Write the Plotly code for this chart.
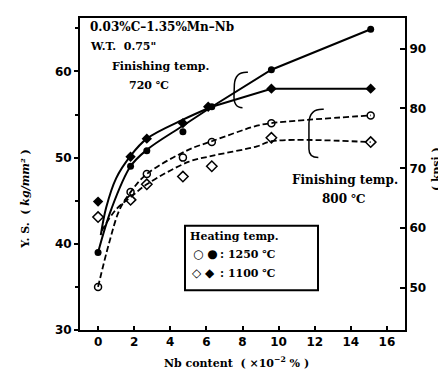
import plotly.graph_objects as go

# ---------------- data ----------------
# Heating 1250 C, finishing 720 C (filled circles)
fc_x = [0.0, 1.8, 2.7, 4.7, 6.3, 9.6, 15.1]
fc_y = [39.0, 49.0, 50.8, 53.0, 55.9, 60.2, 64.9]
# Heating 1100 C, finishing 720 C (filled diamonds)
fd_x = [0.0, 1.8, 2.7, 4.7, 6.1, 9.6, 15.1]
fd_y = [44.9, 50.1, 52.2, 54.0, 55.9, 58.0, 58.0]
# Heating 1250 C, finishing 800 C (open circles)
oc_x = [0.0, 1.8, 2.7, 4.7, 6.3, 9.6, 15.1]
oc_y = [35.0, 46.0, 48.1, 50.0, 51.8, 54.0, 54.9]
# Heating 1100 C, finishing 800 C (open diamonds)
od_x = [0.0, 1.8, 2.7, 4.7, 6.3, 9.6, 15.1]
od_y = [43.1, 45.1, 46.9, 47.8, 49.0, 52.3, 51.8]

# fitted curves drawn on the chart
fit_fc_x = [0.0, 0.73, 1.8, 2.7, 4.7, 6.3]
fit_fc_y = [39.0, 44.0, 49.0, 50.9, 53.7, 55.9]
seg_fc_x = [6.3, 9.6, 15.1]
seg_fc_y = [55.9, 60.2, 64.9]

fit_fd_x = [0.15, 0.45, 1.0, 1.8, 2.7, 4.7, 6.3]
fit_fd_y = [41.0, 44.2, 47.6, 50.2, 52.2, 54.4, 55.9]
seg_fd_x = [6.3, 9.6, 15.1]
seg_fd_y = [55.9, 58.0, 58.0]

fit_oc_x = [0.0, 0.6, 1.2, 1.8, 2.7, 5.0, 6.3, 8.8, 9.6, 15.1]
fit_oc_y = [35.0, 40.0, 44.0, 46.0, 48.1, 50.9, 51.9, 53.7, 54.0, 54.9]

fit_od_x = [0.2, 1.0, 1.8, 2.7, 5.0, 6.3, 8.8, 9.6, 15.1]
fit_od_y = [41.5, 44.0, 45.4, 46.9, 49.5, 50.2, 51.3, 51.9, 51.8]

x_ticks = [0, 2, 4, 6, 8, 10, 12, 14, 16]
y_ticks = [30, 40, 50, 60]
kpsi_ticks = [50, 60, 70, 80, 90]

W, H = 446, 369
L, R, T, B = 72, 397, 8, 322


def P(px, py):
    return (px - L) / (R - L), (B - py) / (B - T)


fig = go.Figure()

solid = dict(color="black", width=2)
dashed = dict(color="black", width=1.8, dash="6px,3px")

fig.add_trace(go.Scatter(x=fit_fc_x, y=fit_fc_y, mode="lines", line=dict(solid, shape="spline"), hoverinfo="skip"))
fig.add_trace(go.Scatter(x=seg_fc_x, y=seg_fc_y, mode="lines", line=solid, hoverinfo="skip"))
fig.add_trace(go.Scatter(x=fit_fd_x, y=fit_fd_y, mode="lines", line=dict(solid, shape="spline"), hoverinfo="skip"))
fig.add_trace(go.Scatter(x=seg_fd_x, y=seg_fd_y, mode="lines", line=solid, hoverinfo="skip"))
fig.add_trace(go.Scatter(x=fit_oc_x, y=fit_oc_y, mode="lines", line=dict(dashed, shape="spline"), hoverinfo="skip"))
fig.add_trace(go.Scatter(x=fit_od_x, y=fit_od_y, mode="lines", line=dict(dashed, shape="spline"), hoverinfo="skip"))

fig.add_trace(go.Scatter(x=fc_x, y=fc_y, mode="markers",
                         marker=dict(symbol="circle", size=7, color="black")))
fig.add_trace(go.Scatter(x=fd_x, y=fd_y, mode="markers",
                         marker=dict(symbol="diamond", size=8, color="black")))
fig.add_trace(go.Scatter(x=oc_x, y=oc_y, mode="markers",
                         marker=dict(symbol="circle-open", size=7, color="black", line=dict(width=1.5))))
fig.add_trace(go.Scatter(x=od_x, y=od_y, mode="markers",
                         marker=dict(symbol="diamond-open", size=8, color="black", line=dict(width=1.5))))
# invisible trace for the kpsi axis
fig.add_trace(go.Scatter(x=[fc_x[0]], y=[kpsi_ticks[0]], yaxis="y2", mode="markers",
                         marker=dict(opacity=0), hoverinfo="skip"))

tickfont = dict(family="DejaVu Sans", size=12, color="black", weight="bold")

fig.update_layout(
    width=W, height=H,
    margin=dict(l=L, r=W - R, t=T, b=H - B),
    paper_bgcolor="white", plot_bgcolor="white",
    showlegend=False,
    xaxis=dict(range=[-1, 17], tickvals=x_ticks, ticks="inside", ticklen=4, tickwidth=1.5,
               tickcolor="black", showgrid=False, zeroline=False, showline=True,
               linecolor="black", linewidth=2, mirror=True, tickfont=tickfont),
    yaxis=dict(range=[30, 66.2], tickvals=y_ticks, ticks="outside", ticklen=4, tickwidth=1.5,
               tickcolor="black", showgrid=False, zeroline=False, showline=True,
               linecolor="black", linewidth=2, mirror=True, tickfont=tickfont,
               minor=dict(dtick=5, ticks="outside", ticklen=3, tickcolor="black")),
    yaxis2=dict(range=[43.0, 95.1], overlaying="y", side="right", tickvals=kpsi_ticks,
                ticks="inside", ticklen=5, tickwidth=1.5, tickcolor="black", showgrid=False,
                zeroline=False, showline=True, linecolor="black", linewidth=2,
                tickfont=tickfont),
)

serif = dict(family="DejaVu Serif", color="black", weight="bold")


def note(text, px, py, size, xanchor="left", angle=0):
    x, y = P(px, py)
    fig.add_annotation(text=text, x=x, y=y, xref="paper", yref="paper", showarrow=False,
                       xanchor=xanchor, yanchor="middle", textangle=angle,
                       font=dict(serif, size=size))


# axis titles
note("Y. S.  ( <i>kg/mm²</i> )", 18, 190, 11, xanchor="center", angle=-90)
note("( kpsi )", 428, 160, 11, xanchor="center", angle=-90)
note("Nb content  ( ×10<sup>−2</sup> % )", 228, 355, 11, xanchor="center")

note("0.03%C–1.35%Mn–Nb", 80, 17, 12)
note("W.T.  0.75\"", 80, 37, 11)
note("Finishing temp.", 102, 57, 11)
note("720 ℃", 119, 76, 11)
note("Finishing temp.", 282, 171, 12)
note("800 ℃", 312, 190, 12)

# heating-temperature key box
x0, y0 = P(177, 282)
x1, y1 = P(310, 217)
fig.add_shape(type="rect", xref="paper", yref="paper", x0=x0, y0=y0, x1=x1, y1=y1,
              line=dict(color="black", width=2), fillcolor="white", layer="above")
note("Heating temp.", 180, 228, 11)
fig.add_annotation(text="○ ●", x=P(183, 246)[0], y=P(183, 246)[1], xref="paper", yref="paper",
                   showarrow=False, xanchor="left", yanchor="middle",
                   font=dict(family="DejaVu Sans", size=12, color="black"))
fig.add_annotation(text="◇ ◆", x=P(182, 265)[0], y=P(182, 265)[1], xref="paper", yref="paper",
                   showarrow=False, xanchor="left", yanchor="middle",
                   font=dict(family="DejaVu Sans", size=12, color="black"))
note(": 1250 ℃", 210, 246, 11)
note(": 1100 ℃", 210, 265, 11)

# curly brackets grouping the curves
fig.add_shape(type="path", xref="x", yref="y",
              path="M 8.3,59.9 Q 7.6,60.0 7.55,58.5 L 7.53,57.2 Q 7.5,55.8 8.0,55.8",
              line=dict(color="black", width=1.5))
fig.add_shape(type="path", xref="x", yref="y",
              path="M 12.5,55.6 Q 11.7,55.7 11.68,54.0 L 11.68,51.0 Q 11.68,50.0 12.2,50.0",
              line=dict(color="black", width=1.5))

fig.write_html("out.html")
